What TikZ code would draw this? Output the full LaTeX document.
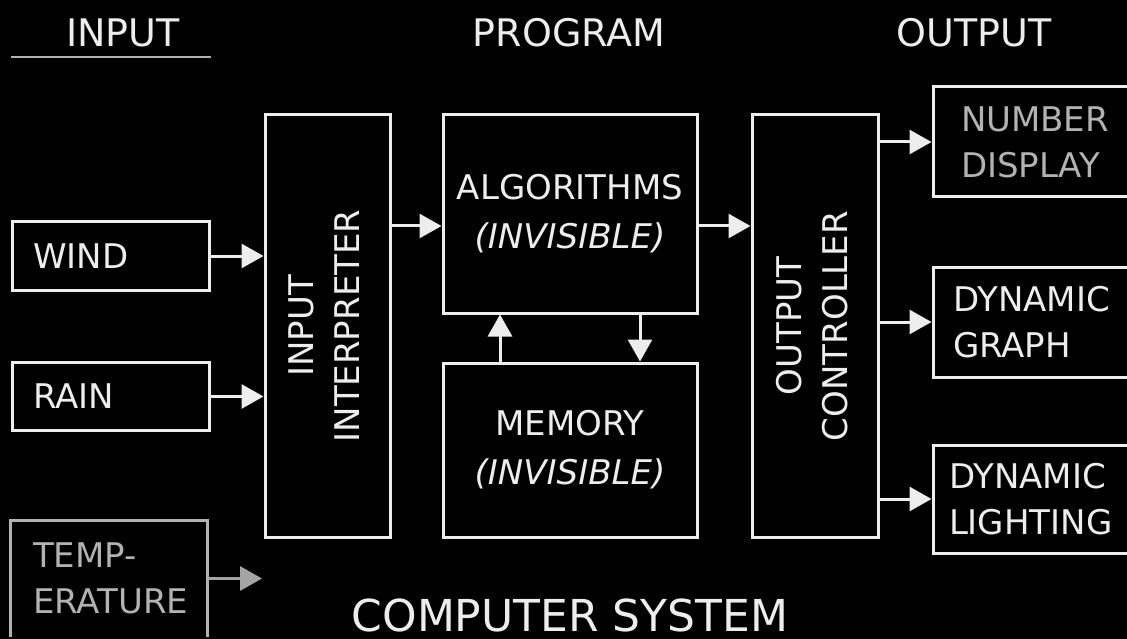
\documentclass[tikz,border=0pt]{standalone}
\usepackage{fontspec}
\setmainfont{DejaVu Sans}
\usepackage{tikz}
\usetikzlibrary{positioning, arrows.meta}
\definecolor{chalk}{HTML}{EDEDED}
\definecolor{dimchalk}{HTML}{B2B2B2}
\definecolor{fadechalk}{HTML}{A4A4A4}
\newcommand{\boxfont}{\fontsize{34}{46}\selectfont}
\newcommand{\progfont}{\fontsize{34}{49}\selectfont}
\newcommand{\headfont}{\fontsize{38}{44}\selectfont}
\newcommand{\titlefont}{\fontsize{44}{50}\selectfont}
\newcommand{\sideways}[1]{\rotatebox{90}{\begin{tabular}{@{}c@{}}#1\end{tabular}}}
\tikzstyle{line} = [draw=chalk, line width=3pt, -{Triangle[length=22pt, width=24pt]}]
\tikzstyle{block} = [rectangle, draw=chalk, line width=3pt, text=chalk,
    font=\boxfont, align=center, inner sep=0pt]
\tikzstyle{blockin} = [block, minimum width=197pt, minimum height=68pt,
    text width=155pt, inner xsep=21pt, align=left]
\tikzstyle{blocktall} = [block, minimum width=125pt, minimum height=422pt]
\tikzstyle{blockprog} = [block, minimum width=254pt, font=\progfont]
\tikzstyle{blockout} = [block, minimum width=207pt, minimum height=110pt,
    text width=167pt, inner xsep=20pt, align=left]
\tikzstyle{header} = [text=chalk, font=\headfont, inner sep=0pt]

\begin{document}
\begin{tikzpicture}[x=1pt, y=-1pt]
    \fill[black] (0,0) rectangle (1127,639);
    \useasboundingbox (0,0) rectangle (1127,639);
    \clip (0,0) rectangle (1127,639);

    % headings
    \node[header] (inhdr) at (123,33) {INPUT};
    \node[header] (proghdr) at (569,33) {PROGRAM};
    \node[header] (outhdr) at (974,33) {OUTPUT};
    \node[text=chalk, font=\titlefont, inner sep=0pt] (system) at (570,615) {COMPUTER SYSTEM};

    % inputs
    \node[blockin] (wind) at (110.5,256) {WIND};
    \node[blockin, below of=wind, node distance=140.5pt] (rain) {RAIN};
    \node[blockin, draw=none, text=dimchalk, minimum width=194pt, minimum height=113pt,
        text width=152pt, inner xsep=21pt] (temp) at (109,578.5) {TEMP-\\ERATURE};
    \draw[dimchalk, line width=3pt] (temp.south west) -- (temp.north west) -- (temp.north east) -- (temp.south east);
    \draw[line width=2pt, dimchalk] (wind.west |- 0,57) -- (wind.east |- 0,57);

    % program
    \node[blocktall] (interp) at (327.5,326) {\sideways{INPUT\\INTERPRETER}};
    \node[blockprog, minimum height=198pt] (algo) at (570,214) {ALGORITHMS\\\textit{(INVISIBLE)}};
    \node[blockprog, minimum height=174pt, below of=algo, node distance=236pt] (memory) {MEMORY\\\textit{(INVISIBLE)}};
    \node[blocktall, minimum width=126pt] (outctrl) at (815,326) {\sideways{OUTPUT\\CONTROLLER}};

    % outputs
    \node[blockout, text=dimchalk, text width=151pt, inner xsep=28pt] (numdisp) at (1036.5,142) {NUMBER\\DISPLAY};
    \node[blockout] (graph) at (1036.5,322) {DYNAMIC\\GRAPH};
    \node[blockout, minimum height=108pt, text width=175pt, inner xsep=16pt] (lighting) at (1036.5,499) {DYNAMIC\\LIGHTING};

    \coordinate (feed) at ([yshift=-12pt]algo.west);
    \coordinate (tempend) at (262,578.5);

    \path [line] (wind) -- (wind -| interp.west);
    \path [line] (rain) -- (rain -| interp.west);
    \path [line, draw=fadechalk] (temp) -- (tempend);
    \path [line] (feed -| interp.east) -- (feed);
    \path [line] ([xshift=-70pt]memory.north) -- ([xshift=-70pt]algo.south);
    \path [line] ([xshift=70pt]algo.south) -- ([xshift=70pt]memory.north);
    \path [line] (feed -| algo.east) -- (feed -| outctrl.west);
    \path [line] (outctrl.east |- numdisp) -- (numdisp);
    \path [line] (outctrl.east |- graph) -- (graph);
    \path [line] (outctrl.east |- lighting) -- (lighting);
\end{tikzpicture}
\end{document}
